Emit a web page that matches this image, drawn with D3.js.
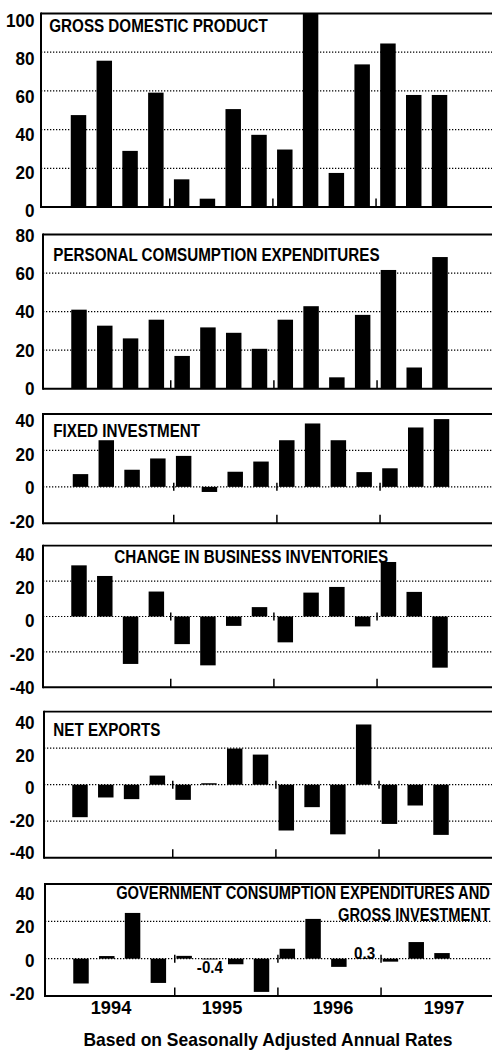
<!DOCTYPE html>
<html><head><meta charset="utf-8">
<script src="https://cdn.jsdelivr.net/npm/d3@7"></script>
<style>
html,body{margin:0;padding:0;background:#fff;}
svg{display:block;}
text{font-family:"Liberation Sans", Arial, Helvetica, sans-serif;fill:#000;}
</style></head><body>
<svg id="chart" width="492" height="1053"></svg>
<script>
// ---------- DATA ----------
const quarters = ["1994Q1","1994Q2","1994Q3","1994Q4","1995Q1","1995Q2","1995Q3","1995Q4",
                  "1996Q1","1996Q2","1996Q3","1996Q4","1997Q1","1997Q2","1997Q3","1997Q4"];
const years = ["1994","1995","1996","1997"];
const yearStarts = ["1995Q1","1996Q1","1997Q1"];

const gdp         = [47.5, 75.6, 29.0, 59.1, 14.3, 4.3, 50.6, 37.3, 29.7, 100.0, 17.6, 73.7, 84.5, 57.9, 57.9];
const pce         = [41.0, 32.7, 26.1, 35.8, 17.0, 31.8, 29.0, 20.7, 35.8, 42.8, 5.9, 38.3, 61.6, 11.0, 68.3];
const fixedInv    = [7.0, 25.6, 9.4, 15.6, 17.0, -2.8, 8.3, 13.9, 25.6, 34.8, 25.6, 8.1, 10.2, 32.6, 37.2];
const inventories = [28.9, 22.9, -26.8, 14.1, -15.6, -27.6, -5.3, 5.3, -14.6, 13.5, 16.7, -5.6, 30.8, 13.9, -28.9];
const netExports  = [-17.8, -7.0, -7.9, 5.0, -8.3, 0.8, 19.8, 16.5, -25.1, -12.3, -27.2, 33.0, -21.5, -11.4, -27.5];
const government  = [-13.3, 1.4, 24.5, -13.0, 1.5, -0.4, -3.0, -17.8, 5.3, 21.3, -4.4, 0.3, -1.6, 8.9, 3.0];

const titles = [
  ["GROSS DOMESTIC PRODUCT"],
  ["PERSONAL COMSUMPTION EXPENDITURES"],
  ["FIXED INVESTMENT"],
  ["CHANGE IN BUSINESS INVENTORIES"],
  ["NET EXPORTS"],
  ["GOVERNMENT CONSUMPTION EXPENDITURES AND", "GROSS INVESTMENT"]
];
const tickSets = [
  [0,20,40,60,80,100],
  [0,20,40,60,80],
  [-20,0,20,40],
  [-40,-20,0,20,40],
  [-40,-20,0,20,40],
  [-20,0,20,40]
];
const series = [gdp, pce, fixedInv, inventories, netExports, government];
const footer = "Based on Seasonally Adjusted Annual Rates";

// ---------- LAYOUT ----------
const layout = [
  {top:13.5, bottom:207,   left:41, dx:0,   tx:49.3,  ty:[32.3],       anchor:"start", sx:0.8,  lab:[217,26.7]},
  {top:234.5,bottom:388.7, left:43, dx:0.5, tx:53.3,  ty:[260.7],      anchor:"start", sx:0.8,  lab:[395,241.7]},
  {top:414,  bottom:523.3, left:43, dx:2,   tx:53.3,  ty:[436.7],      anchor:"start", sx:0.8,  lab:[528,427]},
  {top:545.7,bottom:687.3, left:43, dx:0.5, tx:114.3, ty:[563.3],      anchor:"start", sx:0.8,  lab:[694,560.7]},
  {top:711.7,bottom:857.7, left:44, dx:1.5, tx:53.3,  ty:[735.7],      anchor:"start", sx:0.8,  lab:[859,729]},
  {top:884,  bottom:996,   left:45, dx:2.5, tx:490,   ty:[899.3,920.8],anchor:"end",   sx:0.775,lab:[1000,900]}
];
const RIGHT = 500;

const svg = d3.select("#chart");
svg.append("rect").attr("width",492).attr("height",1053).attr("fill","#fff");

const x = d3.scaleBand().domain(quarters).range([65.6, 478.2]).paddingInner(0.4).paddingOuter(0.2);
const gap = x.step() - x.bandwidth();

function sText(parent, px, py, str, size, weight, sx, anchor){
  return parent.append("text")
    .attr("transform", `translate(${px},${py}) scale(${sx},1)`)
    .attr("text-anchor", anchor)
    .attr("font-size", size)
    .attr("font-weight", weight)
    .text(str);
}

series.forEach((vals, i) => {
  const L = layout[i];
  const ticks = tickSets[i];
  const dom = [d3.min(ticks), d3.max(ticks)];
  const y = d3.scaleLinear().domain(dom).range([L.bottom, L.top]);
  const yl = d3.scaleLinear().domain(dom).range(L.lab);
  const g = svg.append("g");

  // dotted gridlines (inner ticks)
  g.selectAll("line.grid").data(ticks.filter(t => t !== dom[0] && t !== dom[1]))
    .join("line").attr("class","grid")
    .attr("x1", L.left).attr("x2", RIGHT)
    .attr("y1", d => y(d)).attr("y2", d => y(d))
    .attr("stroke","#000").attr("stroke-width",1.2)
    .attr("stroke-dasharray","1.3 1.7");

  // bars
  const bg = g.append("g").attr("transform", `translate(${L.dx},0)`);
  bg.selectAll("rect").data(vals).join("rect")
    .attr("x", (d,j) => x(quarters[j]))
    .attr("width", x.bandwidth())
    .attr("y", d => y(Math.min(dom[1], Math.max(0, d))))
    .attr("height", d => Math.abs(y(Math.max(dom[0], Math.min(dom[1], d))) - y(0)))
    .attr("fill","#000");

  // year ticks
  yearStarts.forEach(q => {
    const tx = x(q) - gap/2 + L.dx + 1;
    bg.append("line").attr("x1",tx).attr("x2",tx)
      .attr("y1", L.bottom).attr("y2", L.bottom - 8.5)
      .attr("stroke","#000").attr("stroke-width",1.5);
    if (dom[0] < 0) {
      bg.append("line").attr("x1",tx).attr("x2",tx)
        .attr("y1", y(0) - 4).attr("y2", y(0) + 4)
        .attr("stroke","#000").attr("stroke-width",1.5);
    }
  });

  // frame
  g.append("line").attr("x1",L.left).attr("x2",RIGHT).attr("y1",L.top).attr("y2",L.top)
    .attr("stroke","#000").attr("stroke-width",1.8);
  g.append("line").attr("x1",L.left).attr("x2",RIGHT).attr("y1",L.bottom).attr("y2",L.bottom)
    .attr("stroke","#000").attr("stroke-width",2);
  g.append("line").attr("x1",L.left).attr("x2",L.left).attr("y1",L.top-0.9).attr("y2",L.bottom+1)
    .attr("stroke","#000").attr("stroke-width",2);

  // y labels
  ticks.forEach(t => sText(g, 34.5, yl(t), String(t), 19, "bold", 0.9, "end"));

  // title
  titles[i].forEach((line, k) => sText(g, L.tx, L.ty[k], line, 19, "bold", L.sx, L.anchor));

  // small-value annotations
  vals.forEach((v, j) => {
    if (Math.abs(v) < 0.5) {
      const cx = x(quarters[j]) + x.bandwidth()/2 + L.dx;
      const by = v < 0 ? y(0) + 14 : y(0) + 0.5;
      sText(g, cx, by, String(v), 16, "bold", 0.95, "middle");
    }
  });
});

// year labels
const yx = d3.scalePoint().domain(years).range([111, 444]);
years.forEach(yr => sText(svg, yx(yr), 1014, yr, 19, "bold", 0.96, "middle"));

// footer
sText(svg, 268, 1045.7, footer, 18, "bold", 0.97, "middle");
</script>
</body></html>
